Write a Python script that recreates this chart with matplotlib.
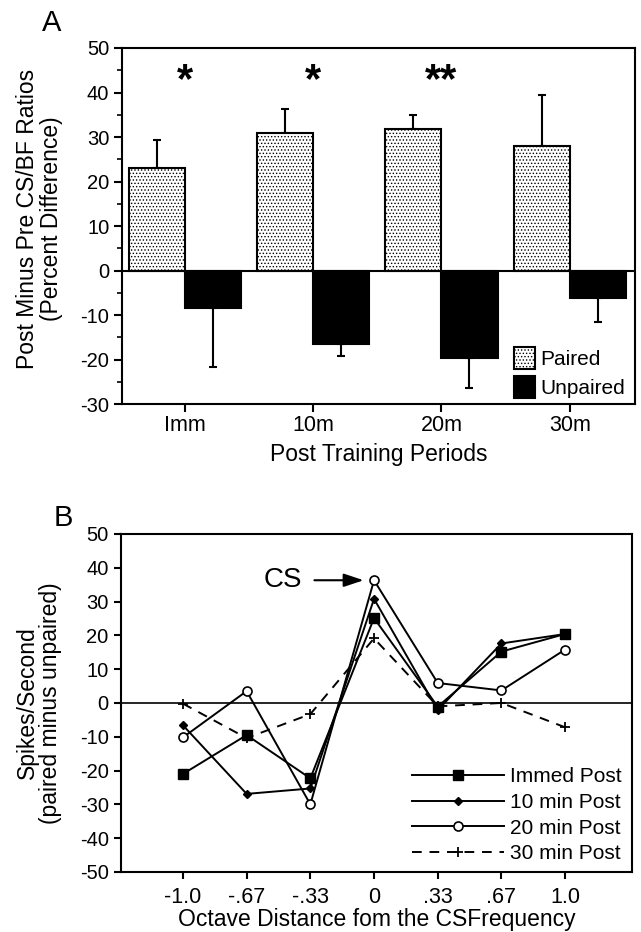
import matplotlib
matplotlib.use("Agg")
import matplotlib.pyplot as plt
import numpy as np

plt.rcParams['font.family'] = ['Liberation Sans', 'DejaVu Sans']
plt.rcParams['hatch.linewidth'] = 0.6
plt.rcParams['axes.unicode_minus'] = False

# ---- panel A data (percent difference) ----
periods = ['Imm', '10m', '20m', '30m']
paired = [23.0, 30.8, 31.9, 28.0]
paired_err = [6.4, 5.4, 3.0, 11.5]
unpaired = [-8.5, -16.6, -19.7, -6.2]
unpaired_err = [13.1, 2.7, 6.8, 5.4]
stars = ['*', '*', '**', '']

# ---- panel B data (spikes/second, paired minus unpaired) ----
octave_labels = ['-1.0', '-.67', '-.33', '0', '.33', '.67', '1.0']
immed_post = [-21.0, -9.5, -22.3, 25.1, -1.1, 15.2, 20.4]
min10_post = [-6.6, -26.9, -25.3, 30.8, -2.1, 17.6, 20.4]
min20_post = [-10.2, 3.5, -30.0, 36.3, 5.9, 3.7, 15.8]
min30_post = [-0.2, -10.4, -3.3, 19.1, -1.0, 0.0, -7.2]

fig = plt.figure(figsize=(6.41, 9.32), dpi=100)

# ================= Panel A =================
axA = fig.add_axes([0.190, 0.5665, 0.801, 0.382])
x = np.arange(len(periods))
w = 0.437
axA.bar(x - w/2, paired, w, color='white', edgecolor='black', hatch='.....',
        linewidth=1.5, label='Paired', zorder=2)
axA.bar(x + w/2, unpaired, w, color='black', edgecolor='black',
        linewidth=1.5, label='Unpaired', zorder=2)
axA.errorbar(x - w/2, paired, yerr=[np.zeros(4), paired_err], fmt='none',
             ecolor='black', elinewidth=1.5, capsize=3.2, capthick=1.5, zorder=1)
axA.errorbar(x + w/2, unpaired, yerr=[unpaired_err, np.zeros(4)], fmt='none',
             ecolor='black', elinewidth=1.5, capsize=3.2, capthick=1.5, zorder=1)
axA.axhline(0, color='black', linewidth=1.5, zorder=3)
for i, s in enumerate(stars):
    if s:
        axA.text(x[i], 40.2, s, ha='center', va='baseline', fontsize=30,
                 fontweight='bold')

axA.set_xlim(-0.49, 3.51)
axA.set_ylim(-30, 50)
axA.set_yticks(np.arange(-30, 51, 10))
axA.set_yticks(np.arange(-25, 50, 10), minor=True)
axA.set_xticks(x)
axA.set_xticklabels(periods)
axA.tick_params(axis='both', which='major', direction='out', length=6, width=1.5,
                pad=3)
axA.tick_params(axis='y', which='major', labelsize=14.5)
axA.tick_params(axis='x', which='major', labelsize=15.5, pad=2)
axA.tick_params(axis='y', which='minor', direction='out', length=3.5, width=1.2)
for sp in axA.spines.values():
    sp.set_linewidth(1.5)
axA.set_xlabel('Post Training Periods', fontsize=16.5, labelpad=5)
axA.set_ylabel('Post Minus Pre CS/BF Ratios\n(Percent Difference)', fontsize=16.5,
               linespacing=1.05)
axA.yaxis.set_label_coords(-0.115, 0.52)
axA.legend(loc='lower right', bbox_to_anchor=(1.0, -0.012), frameon=False,
           fontsize=15, handlelength=1.0, handleheight=1.25, handletextpad=0.25,
           labelspacing=0.33, borderaxespad=0.1)

fig.text(52/641, 1 - 23/932, 'A', fontsize=21, ha='center', va='center')

# ================= Panel B =================
axB = fig.add_axes([0.189, 0.0644, 0.797, 0.3627])
xo = np.arange(-3, 4)
axB.axhline(0, color='black', linewidth=1.2, zorder=1)
axB.plot(xo, immed_post, '-', color='black', marker='s', markersize=6.5,
         linewidth=1.4, label='Immed Post', zorder=3)
axB.plot(xo, min10_post, '-', color='black', marker='D', markersize=4.2,
         linewidth=1.4, label='10 min Post', zorder=3)
axB.plot(xo, min20_post, '-', color='black', marker='o', markersize=6.5,
         markerfacecolor='white', markeredgewidth=1.2, linewidth=1.4,
         label='20 min Post', zorder=4)
axB.plot(xo, min30_post, '--', color='black', marker='+', markersize=7,
         markeredgewidth=1.3, linewidth=1.4, dashes=(5, 4),
         label='30 min Post', zorder=2)

axB.annotate('', xy=(-0.12, 36.3), xytext=(-0.98, 36.3),
             arrowprops=dict(arrowstyle='-|>,head_length=1.2,head_width=0.4',
                             color='black', lw=1.5))
axB.text(-1.43, 36.3, 'CS', fontsize=20, ha='center', va='center')

axB.set_xlim(-3.97, 4.05)
axB.set_ylim(-50, 50)
axB.set_yticks(np.arange(-50, 51, 10))
axB.set_xticks(xo)
axB.set_xticklabels(octave_labels)
axB.tick_params(axis='both', direction='out', length=5, width=1.5, pad=4)
axB.tick_params(axis='y', labelsize=14.5)
axB.tick_params(axis='x', labelsize=15.5, pad=6)
for sp in axB.spines.values():
    sp.set_linewidth(1.5)
axB.set_xlabel('Octave Distance fom the CSFrequency', fontsize=16.5, labelpad=0)
axB.set_ylabel('Spikes/Second\n(paired minus unpaired)', fontsize=16.5,
               linespacing=1.05)
axB.yaxis.set_label_coords(-0.115, 0.5)
axB.legend(loc='lower right', bbox_to_anchor=(1.0, -0.005), frameon=False,
           fontsize=15, handlelength=4.4, handletextpad=0.3, labelspacing=0.32,
           borderaxespad=0.1)

fig.text(63/641, 1 - 518/932, 'B', fontsize=21, ha='center', va='center')

plt.savefig('out.png', dpi=100)
